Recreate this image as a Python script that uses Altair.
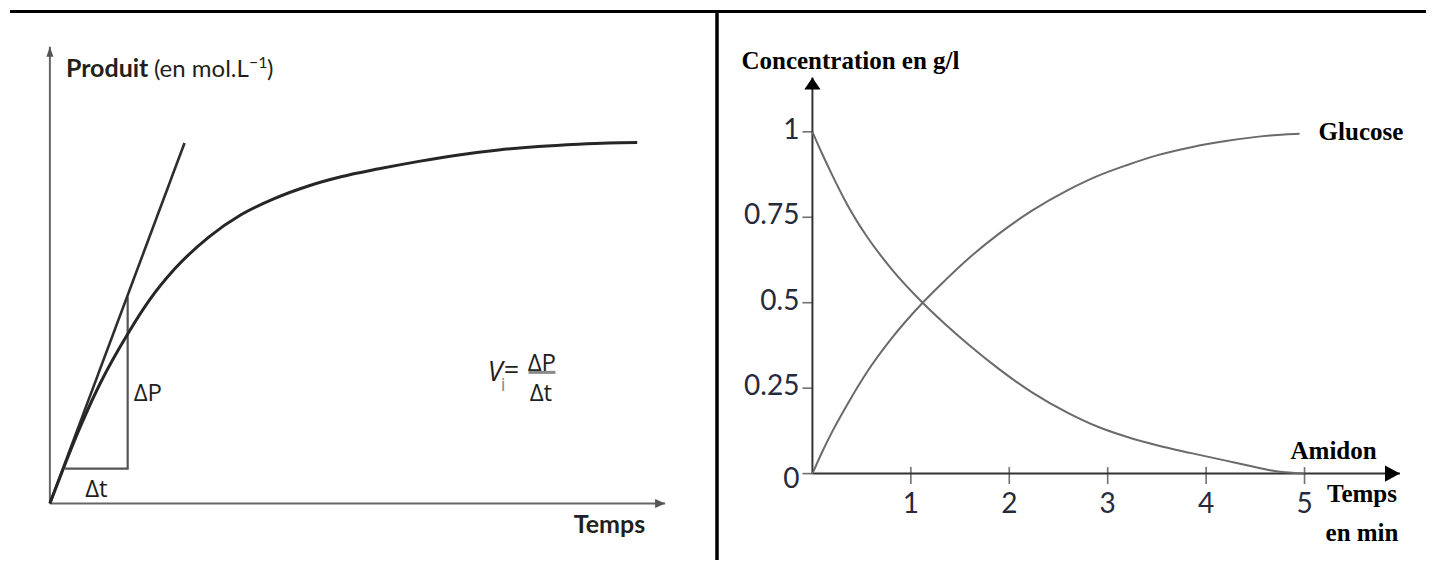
import altair as alt
import pandas as pd

# ---------------- Left panel : product formation (arbitrary units) ----------------
prod_time = [0, 0.15, 0.3, 0.5, 0.8, 1.0, 1.25, 1.59, 1.92, 2.25, 2.6, 2.92, 3.3, 3.7,
             4.1, 4.5, 4.9, 5.3, 5.6, 5.89]
prod_value = [0, 0.39, 0.76, 1.2, 1.74, 2.05, 2.36, 2.68, 2.91, 3.07, 3.2, 3.29, 3.37, 3.445,
              3.51, 3.56, 3.595, 3.618, 3.63, 3.635]
tangent_time = [0, 1.35]
tangent_value = [0, 3.63]
delta_time = [0.153, 0.78, 0.78]
delta_value = [0.35, 0.35, 2.08]
left_time_max = 6.17
left_value_max = 4.6
formula_time = 4.41
formula_value = 1.23
formula_bar_time = [4.80, 5.07]
formula_bar_value = 1.32

# ---------------- Right panel : amidon -> glucose ----------------
amidon_time = [0, 0.1, 0.2, 0.35, 0.55, 0.8, 1.12, 1.35, 1.6, 1.9, 2.235, 2.6, 2.9, 3.2,
               3.5, 3.85, 4.2, 4.45, 4.65, 4.8, 4.95, 5.0]
amidon = [1.0, 0.935, 0.874, 0.789, 0.695, 0.6, 0.5, 0.437, 0.374, 0.305, 0.237, 0.177, 0.137,
          0.107, 0.083, 0.06, 0.038, 0.022, 0.01, 0.004, 0.001, 0.0]
glucose_time = [0, 0.1, 0.2, 0.35, 0.55, 0.8, 1.12, 1.35, 1.6, 1.9, 2.235, 2.6, 2.9, 3.2,
                3.5, 3.85, 4.2, 4.45, 4.65, 4.8, 4.95]
glucose = [0, 0.064, 0.122, 0.2, 0.295, 0.394, 0.5, 0.566, 0.633, 0.703, 0.77, 0.83, 0.871,
           0.903, 0.931, 0.955, 0.973, 0.983, 0.989, 0.992, 0.994]
x_ticks = [1, 2, 3, 4, 5]
y_ticks = [0, 0.25, 0.5, 0.75, 1]
y_tick_labels = ["0", "0.25", "0.5", "0.75", "1"]
right_time_max = 5.97
right_conc_max = 1.159

W, H = 1418, 552

xL = alt.Scale(domain=[-0.40, 13.78], nice=False, zero=False)
yL = alt.Scale(domain=[-0.55, 4.97], nice=False, zero=False)
xR = alt.Scale(domain=[-8.1530, 6.2138], nice=False, zero=False)
yR = alt.Scale(domain=[-0.24688, 1.35638], nice=False, zero=False)

XL = alt.X("t:Q", scale=xL, axis=None)
YL = alt.Y("p:Q", scale=yL, axis=None)
XR = alt.X("t:Q", scale=xR, axis=None)
YR = alt.Y("c:Q", scale=yR, axis=None)

SANS = "Lato"
SANS2 = "Open Sans"
SERIF = "Liberation Serif"
INK = "#231f20"

# ---------- left ----------
left_axes_df = pd.DataFrame({"t": [0, 0], "p": [0, 0], "t2": [left_time_max, 0],
                             "p2": [0, left_value_max]})
left_axes = alt.Chart(left_axes_df).mark_rule(color="#666666", strokeWidth=2).encode(
    x=XL, y=YL, x2="t2:Q", y2="p2:Q")
left_xarrow = alt.Chart(pd.DataFrame({"t": [left_time_max], "p": [0]})).mark_point(
    shape="M0,0L-2,-0.9L-2,0.9Z", size=100, filled=True, color="#555555", opacity=1
).encode(x=XL, y=YL)
left_yarrow = alt.Chart(pd.DataFrame({"t": [0], "p": [left_value_max]})).mark_point(
    shape="M0,0L-0.7,2L0.7,2Z", size=100, filled=True, color="#555555", opacity=1
).encode(x=XL, y=YL)

tri_df = pd.DataFrame({"t": delta_time, "p": delta_value, "i": range(len(delta_time))})
triangle = alt.Chart(tri_df).mark_line(color="#555555", strokeWidth=2.2).encode(
    x=XL, y=YL, order="i:Q")
tan_df = pd.DataFrame({"t": tangent_time, "p": tangent_value, "i": range(2)})
tangent = alt.Chart(tan_df).mark_line(color="#2e2e2e", strokeWidth=2.6).encode(
    x=XL, y=YL, order="i:Q")
curve_df = pd.DataFrame({"t": prod_time, "p": prod_value, "i": range(len(prod_time))})
curve = alt.Chart(curve_df).mark_line(color="#262626", strokeWidth=3, interpolate="monotone").encode(
    x=XL, y=YL, order="i:Q")

ytip_df = pd.DataFrame({"t": [0], "p": [left_value_max]})
t_produit = alt.Chart(ytip_df).mark_text(text="Produit", font=SANS, fontSize=25, fontWeight="bold",
    color=INK, align="left", baseline="alphabetic", dx=16, dy=30).encode(x=XL, y=YL)
t_unit = alt.Chart(ytip_df).mark_text(text="(en mol.L", font=SANS, fontSize=24,
    color=INK, align="left", baseline="alphabetic", dx=104, dy=30).encode(x=XL, y=YL)
t_sup = alt.Chart(ytip_df).mark_text(text="\u22121", font=SANS, fontSize=16,
    color=INK, align="left", baseline="alphabetic", dx=199, dy=21).encode(x=XL, y=YL)
t_par = alt.Chart(ytip_df).mark_text(text=")", font=SANS, fontSize=24,
    color=INK, align="left", baseline="alphabetic", dx=217, dy=30).encode(x=XL, y=YL)

xtip_df = pd.DataFrame({"t": [left_time_max], "p": [0]})
t_temps = alt.Chart(xtip_df).mark_text(text="Temps", font=SANS, fontSize=25, fontWeight="bold",
    color=INK, align="right", baseline="alphabetic", dx=-20, dy=30).encode(x=XL, y=YL)

dp_df = pd.DataFrame({"t": [delta_time[1]], "p": [(delta_value[1] + delta_value[2]) / 2]})
t_dp = alt.Chart(dp_df).mark_text(text="\u0394P", font=SANS2, fontSize=24, color=INK,
    align="left", baseline="alphabetic", dx=6, dy=18).encode(x=XL, y=YL)
dt_df = pd.DataFrame({"t": [(delta_time[0] + delta_time[1]) / 2], "p": [delta_value[0]]})
t_dt = alt.Chart(dt_df).mark_text(text="\u0394t", font=SANS2, fontSize=24, color=INK,
    align="center", baseline="alphabetic", dx=0, dy=28).encode(x=XL, y=YL)

f_df = pd.DataFrame({"t": [formula_time], "p": [formula_value]})
f_v = alt.Chart(f_df).mark_text(text="V", font=SANS2, fontSize=27, fontStyle="italic",
    color=INK, align="left", baseline="alphabetic", dx=-2).encode(x=XL, y=YL)
f_i = alt.Chart(f_df).mark_text(text="i", font=SANS2, fontSize=19, color="#8a8a8a",
    align="left", baseline="alphabetic", dx=11, dy=10).encode(x=XL, y=YL)
f_eq = alt.Chart(f_df).mark_text(text="=", font=SANS2, fontSize=27, color=INK,
    align="left", baseline="middle", dx=14, dy=-10).encode(x=XL, y=YL)
f_num = alt.Chart(f_df).mark_text(text="\u0394P", font=SANS2, fontSize=24, color=INK,
    align="left", baseline="alphabetic", dx=38, dy=-10).encode(x=XL, y=YL)
f_den = alt.Chart(f_df).mark_text(text="\u0394t", font=SANS2, fontSize=24, color=INK,
    align="left", baseline="alphabetic", dx=40, dy=20).encode(x=XL, y=YL)
bar_df = pd.DataFrame({"t": [formula_bar_time[0]], "t2": [formula_bar_time[1]],
                       "p": [formula_bar_value]})
f_bar = alt.Chart(bar_df).mark_rule(color="#8a8a8a", strokeWidth=3).encode(
    x=XL, x2="t2:Q", y=YL)

left = alt.layer(left_axes, left_xarrow, left_yarrow, triangle, tangent, curve,
                 t_produit, t_unit, t_sup, t_par, t_temps, t_dp, t_dt,
                 f_v, f_i, f_eq, f_num, f_den, f_bar)

# ---------- right ----------
right_axes_df = pd.DataFrame({"t": [0, 0], "c": [0, 0], "t2": [right_time_max, 0],
                              "c2": [0, right_conc_max]})
right_axes = alt.Chart(right_axes_df).mark_rule(color="#333333", strokeWidth=2).encode(
    x=XR, y=YR, x2="t2:Q", y2="c2:Q")
right_xarrow = alt.Chart(pd.DataFrame({"t": [right_time_max], "c": [0]})).mark_point(
    shape="M0,0L-2,-1.07L-2,1.07Z", size=225, filled=True, color="#000000", opacity=1
).encode(x=XR, y=YR)
right_yarrow = alt.Chart(pd.DataFrame({"t": [0], "c": [right_conc_max]})).mark_point(
    shape="M0,0L-1.35,2L1.35,2Z", size=144, filled=True, color="#000000", opacity=1
).encode(x=XR, y=YR)

xt_df = pd.DataFrame({"t": x_ticks, "c": [0] * len(x_ticks), "lab": [str(v) for v in x_ticks]})
x_tick_marks = alt.Chart(xt_df).mark_tick(orient="vertical", size=17, thickness=1.6,
    color="#333333", yOffset=2).encode(x=XR, y=YR)
x_tick_labels = alt.Chart(xt_df).mark_text(font=SANS, fontSize=28, color="#262a3c",
    align="center", baseline="middle", dy=31).encode(x=XR, y=YR, text="lab:N")

yt_df = pd.DataFrame({"t": [0] * len(y_ticks), "c": y_ticks, "lab": y_tick_labels})
y_tick_marks = alt.Chart(yt_df).mark_tick(orient="horizontal", size=10, thickness=1.6,
    color="#333333", xOffset=-5).encode(x=XR, y=YR)
y_lab_df = yt_df[yt_df["c"] > 0]
y_tick_text = alt.Chart(y_lab_df).mark_text(font=SANS, fontSize=28, color="#262a3c",
    align="right", baseline="middle", dx=-13, dy=-1).encode(x=XR, y=YR, text="lab:N")
y_zero_text = alt.Chart(yt_df[yt_df["c"] == 0]).mark_text(font=SANS, fontSize=28, color="#262a3c",
    align="right", baseline="middle", dx=-13, dy=6).encode(x=XR, y=YR, text="lab:N")

am_df = pd.DataFrame({"t": amidon_time, "c": amidon, "i": range(len(amidon))})
am_line = alt.Chart(am_df).mark_line(color="#6a6a6a", strokeWidth=2, interpolate="monotone").encode(
    x=XR, y=YR, order="i:Q")
gl_df = pd.DataFrame({"t": glucose_time, "c": glucose, "i": range(len(glucose))})
gl_line = alt.Chart(gl_df).mark_line(color="#6a6a6a", strokeWidth=2, interpolate="monotone").encode(
    x=XR, y=YR, order="i:Q")

ytipR = pd.DataFrame({"t": [0], "c": [right_conc_max]})
t_conc = alt.Chart(ytipR).mark_text(text="Concentration en g/l", font=SERIF, fontSize=25,
    fontWeight="bold", color="#000000", align="left", baseline="alphabetic", dx=-71, dy=-8
).encode(x=XR, y=YR)
gl_end = pd.DataFrame({"t": [glucose_time[-1]], "c": [glucose[-1]]})
t_gl = alt.Chart(gl_end).mark_text(text="Glucose", font=SERIF, fontSize=25, fontWeight="bold",
    color="#000000", align="left", baseline="alphabetic", dx=19, dy=6).encode(x=XR, y=YR)
am_end = pd.DataFrame({"t": [amidon_time[-1]], "c": [amidon[-1]]})
t_am = alt.Chart(am_end).mark_text(text="Amidon", font=SERIF, fontSize=25, fontWeight="bold",
    color="#000000", align="left", baseline="alphabetic", dx=-14, dy=-15).encode(x=XR, y=YR)
xtipR = pd.DataFrame({"t": [right_time_max], "c": [0]})
t_tps = alt.Chart(xtipR).mark_text(text="Temps", font=SERIF, fontSize=25, fontWeight="bold",
    color="#000000", align="center", baseline="alphabetic", dx=-38, dy=28).encode(x=XR, y=YR)
t_min = alt.Chart(xtipR).mark_text(text="en min", font=SERIF, fontSize=25, fontWeight="bold",
    color="#000000", align="center", baseline="alphabetic", dx=-38, dy=67).encode(x=XR, y=YR)

right = alt.layer(right_axes, right_xarrow, right_yarrow, x_tick_marks, x_tick_labels,
                  y_tick_marks, y_tick_text, y_zero_text, am_line, gl_line,
                  t_conc, t_gl, t_am, t_tps, t_min)

# ---------- frame (table borders) ----------
fdf = pd.DataFrame({"k": [0]})
top_border = alt.Chart(fdf).mark_rule(color="#000000", strokeWidth=3).encode(
    x=alt.value(0), x2=alt.value(W), y=alt.value(1.5))
divider = alt.Chart(fdf).mark_rule(color="#000000", strokeWidth=3.5).encode(
    x=alt.value(707), y=alt.value(0), y2=alt.value(H))

chart = alt.layer(left, right, top_border, divider).resolve_scale(
    x="independent", y="independent"
).properties(
    width=W, height=H, padding=0, background="white",
    autosize=alt.AutoSizeParams(type="fit", contains="padding"),
).configure_view(stroke=None)

chart.save("out.html", embed_options={"renderer": "svg", "actions": False})
